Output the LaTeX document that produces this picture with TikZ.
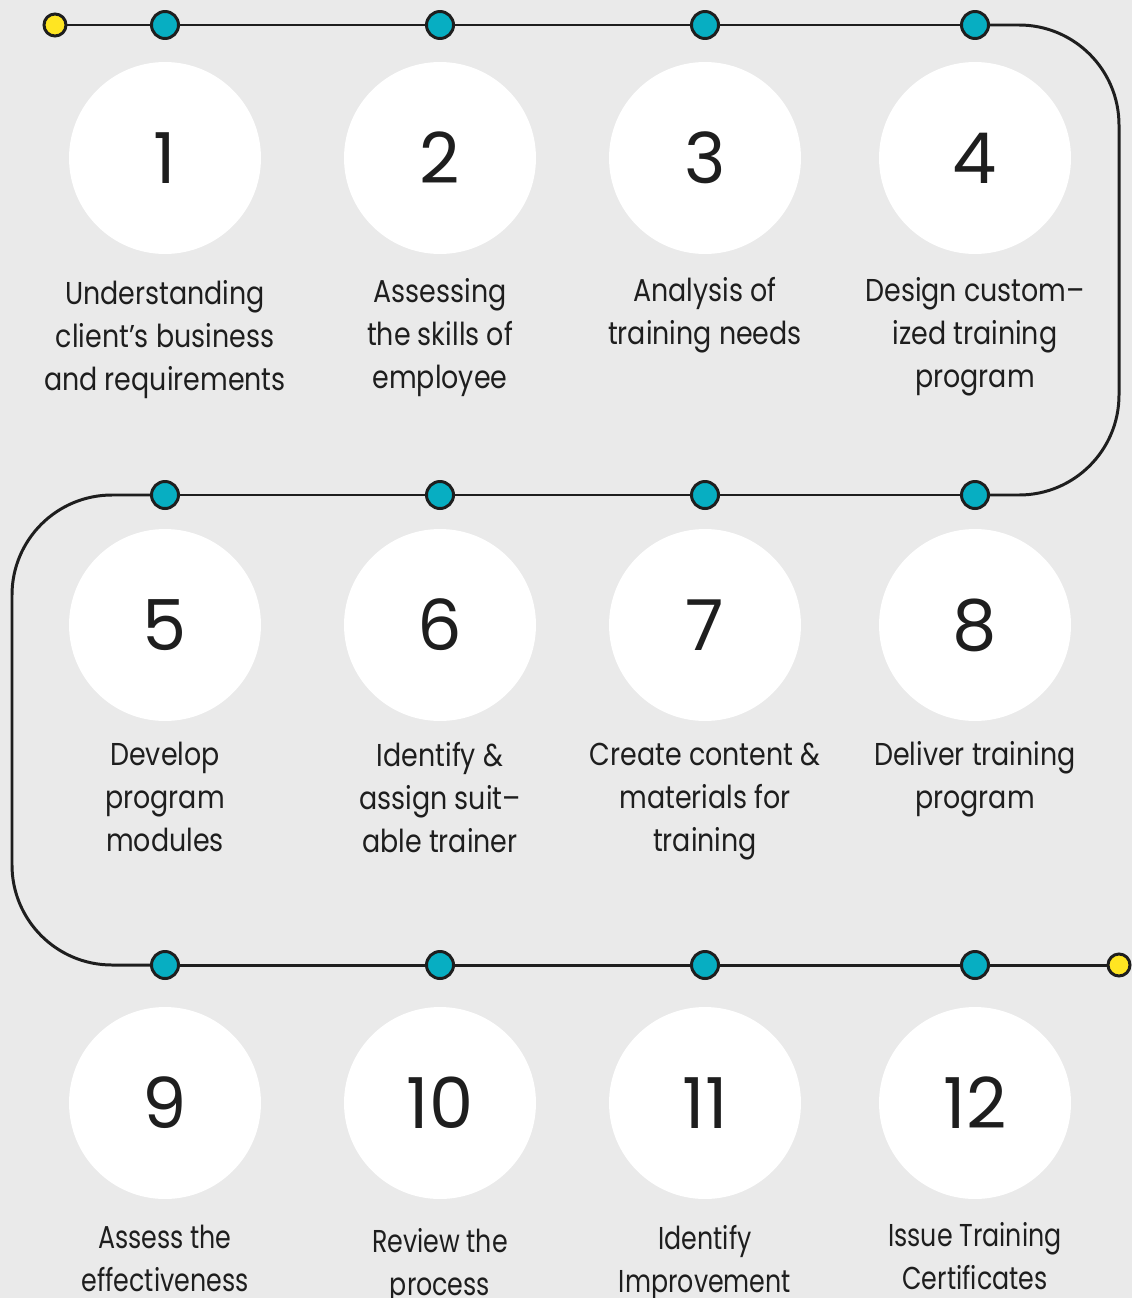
\documentclass[tikz,border=0pt]{standalone}
\usepackage{fontspec}
\setmainfont{Poppins}
\newfontfamily\labelfont{Poppins}[FakeStretch=0.85]
\newfontfamily\narrowfont{Poppins}[FakeStretch=0.8]
\definecolor{bggray}{HTML}{EAEAEA}
\definecolor{trackgray}{HTML}{1E1E1E}
\definecolor{stopteal}{HTML}{07AEC2}
\definecolor{stopyellow}{HTML}{FFE522}
\begin{document}
\begin{tikzpicture}[x=0.02cm,y=-0.02cm,
  track/.style={line width=1.7pt, draw=trackgray},
  stop/.style={circle, draw=trackgray, line width=1.7pt, fill=stopteal, minimum size=0.54cm, inner sep=0},
  endstop/.style={stop, fill=stopyellow, minimum size=0.44cm},
  bubble/.style={circle, fill=white, minimum size=3.84cm, inner sep=0, text=trackgray, font=\fontsize{40}{40}\selectfont},
  caption/.style={anchor=north, align=center, inner sep=0, text=trackgray, font=\labelfont\fontsize{18}{24.5}\selectfont},
  lastcaption/.style={caption, font=\narrowfont\fontsize{18}{24.5}\selectfont}]
\useasboundingbox[fill=bggray] (0,0) rectangle (1132,1298);

% stops on the track
\node[endstop] (start) at (55,25) {};
\node[stop] (s1) at (165,25) {};
\node[stop] (s2) at (440,25) {};
\node[stop] (s3) at (705,25) {};
\node[stop] (s4) at (975,25) {};
\node[stop] (s5) at (165,495) {};
\node[stop] (s6) at (440,495) {};
\node[stop] (s7) at (705,495) {};
\node[stop] (s8) at (975,495) {};
\node[stop] (s9) at (165,965) {};
\node[stop] (s10) at (440,965) {};
\node[stop] (s11) at (705,965) {};
\node[stop] (s12) at (975,965) {};
\node[endstop] (finish) at (1119,965) {};
\coordinate (ne) at (1119,25);
\coordinate (se) at (1119,495);
\coordinate (nw) at (12,495);
\coordinate (sw) at (12,965);

% the track
\draw[track] (start) -- (s1) -- (s2) -- (s3) -- (s4);
\draw[track, rounded corners=2cm] (s4) -- (ne) -- (se) -- (s8);
\draw[track] (s8) -- (s7) -- (s6) -- (s5);
\draw[track, rounded corners=2cm] (s5) -- (nw) -- (sw) -- (s9);
\draw[track] (s9) -- (s10) -- (s11) -- (s12) -- (finish);

% numbered bubbles
\node[bubble] (b1) at (165,158) {1};
\node[bubble] (b2) at (440,158) {2};
\node[bubble] (b3) at (705,158) {3};
\node[bubble] (b4) at (975,158) {4};
\node[bubble] (b5) at (165,625) {5};
\node[bubble] (b6) at (440,625) {6};
\node[bubble] (b7) at (705,625) {7};
\node[bubble] (b8) at (975,625) {8};
\node[bubble] (b9) at (165,1103) {9};
\node[bubble] (b10) at (440,1103) {10};
\node[bubble] (b11) at (705,1103) {11};
\node[bubble] (b12) at (975,1103) {12};

% captions
\node[caption] (t1) at (165,280) {Understanding\\client’s business\\and requirements};
\node[caption] (t2) at (440,278) {Assessing\\the skills of\\employee};
\node[caption] (t3) at (705,277) {Analysis of\\training needs};
\node[caption] (t4) at (975,277) {Design custom–\\ized training\\program};
\node[caption] (t5) at (165,742) {Develop\\program\\modules};
\node[caption] (t6) at (440,742) {Identify \&\\assign suit–\\able trainer};
\node[caption] (t7) at (705,743) {Create content \&\\materials for\\training};
\node[caption] (t8) at (975,741) {Deliver training\\program};
\node[lastcaption] (t9) at (165,1225) {Assess the\\effectiveness};
\node[lastcaption] (t10) at (440,1228) {Review the\\process};
\node[lastcaption] (t11) at (705,1225) {Identify\\Improvement};
\node[lastcaption] (t12) at (975,1222) {Issue Training\\Certificates};
\end{tikzpicture}
\end{document}
